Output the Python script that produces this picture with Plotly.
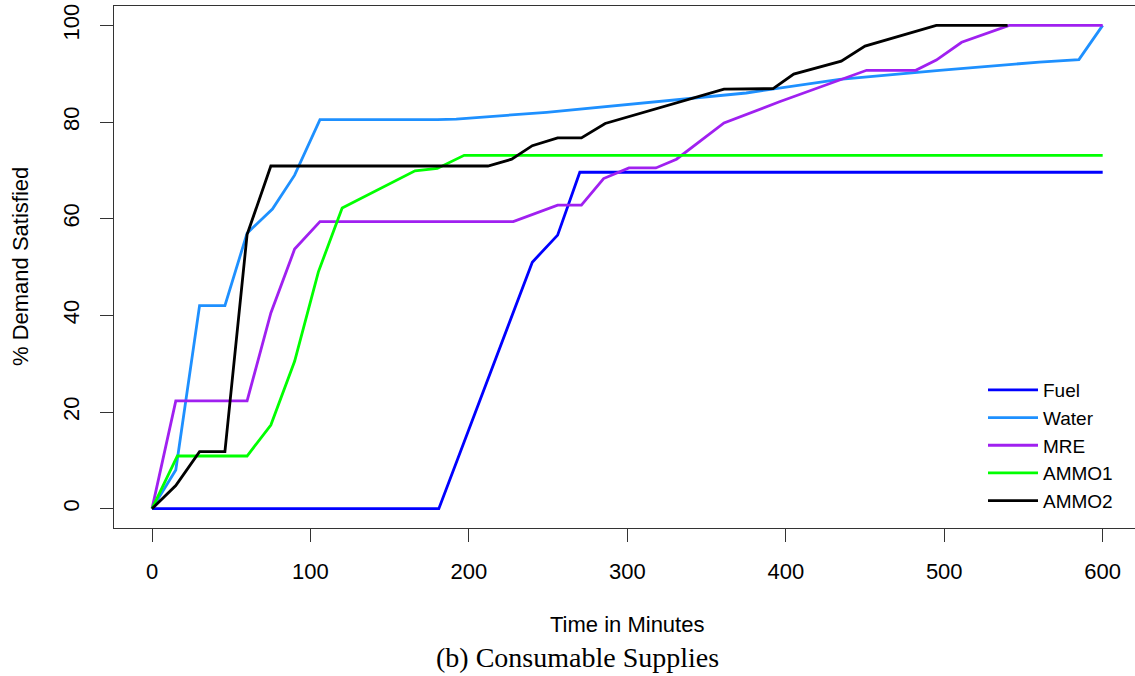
import plotly.graph_objects as go

# ---- data ----
fuel_x = [0, 181, 240, 256, 270, 600]
fuel_y = [0, 0, 51, 56.6, 69.6, 69.6]

water_x = [0, 15, 30, 46, 60, 76, 90, 106, 180, 192, 249, 312, 375, 434, 497, 560, 585, 600]
water_y = [0, 8, 42, 42, 57, 62, 69, 80.5, 80.5, 80.6, 82, 84, 86, 88.8, 90.7, 92.4, 92.9, 100]

mre_x = [0, 15, 60, 75, 90, 106, 228, 256, 271, 285, 301, 318, 331, 361, 396, 451, 482, 495, 511, 541, 600]
mre_y = [0, 22.3, 22.3, 40.5, 53.7, 59.4, 59.4, 62.8, 62.8, 68.3, 70.5, 70.5, 72.3, 79.8, 84.2, 90.7, 90.7, 92.8, 96.5, 100, 100]

ammo1_x = [0, 16, 60, 75, 90, 105, 120, 166, 180, 197, 600]
ammo1_y = [0, 10.9, 10.9, 17.3, 30.5, 49, 62.2, 69.9, 70.4, 73.1, 73.1]

ammo2_x = [0, 15, 30, 46, 60, 75, 212, 227, 240, 256, 271, 286, 361, 382, 392, 405, 435, 450, 495, 540]
ammo2_y = [0, 4.8, 11.8, 11.8, 56.7, 70.9, 70.9, 72.3, 75.1, 76.7, 76.7, 79.7, 86.8, 86.8, 86.9, 89.9, 92.6, 95.7, 100, 100]

series_names = ["Fuel", "Water", "MRE", "AMMO1", "AMMO2"]
series_colors = ["#0000FF", "#1E90FF", "#A020F0", "#00FF00", "#000000"]

x_ticks = [0, 100, 200, 300, 400, 500, 600]
y_ticks = [0, 20, 40, 60, 80, 100]

xs = [fuel_x, water_x, mre_x, ammo1_x, ammo2_x]
ys = [fuel_y, water_y, mre_y, ammo1_y, ammo2_y]

fig = go.Figure()
for name, color, x, y in zip(series_names, series_colors, xs, ys):
    fig.add_trace(go.Scatter(x=x, y=y, mode="lines", name=name, legendgroup=name,
                             line=dict(color=color, width=2.8)))

font_sans = "Liberation Sans, Arial, sans-serif"
L, T, W, H = 114, 6, 1021, 522  # plot area in pixels

fig.update_layout(
    width=1135, height=676,
    margin=dict(l=L, r=0, t=T, b=676 - T - H, autoexpand=False),
    paper_bgcolor="white", plot_bgcolor="white",
    font=dict(family=font_sans, size=22, color="#000"),
    showlegend=True,
    legend=dict(x=(983 - L) / W, y=(T + H - 371) / H, xanchor="left", yanchor="top",
                bgcolor="rgba(0,0,0,0)", borderwidth=0, itemwidth=50,
                font=dict(family=font_sans, size=19, color="#000"),
                tracegroupgap=0),
    xaxis=dict(range=[-24, 620.4], tickvals=x_ticks, ticks="outside", ticklen=13,
               tickcolor="#333", showline=True, linecolor="#333", linewidth=1.3,
               mirror=True, showgrid=False, zeroline=False, automargin=False,
               tickfont=dict(size=22), ticklabelstandoff=10),
    yaxis=dict(range=[-4, 104], tickvals=y_ticks, ticks="outside", ticklen=13,
               tickcolor="#333", showline=True, linecolor="#333", linewidth=1.3,
               showgrid=False, zeroline=False, tickangle=-90, automargin=False,
               tickfont=dict(size=22), ticklabelstandoff=12),
    annotations=[
        dict(text="Time in Minutes", xref="paper", yref="paper",
             x=(627 - L) / W, y=-(624 - T - H) / H,
             xanchor="center", yanchor="middle", showarrow=False,
             font=dict(family=font_sans, size=22)),
        dict(text="% Demand Satisfied", xref="paper", yref="paper",
             x=(20 - L) / W, y=(T + H - 267) / H,
             xanchor="center", yanchor="middle", showarrow=False, textangle=-90,
             font=dict(family=font_sans, size=22)),
        dict(text="(b) Consumable Supplies", xref="paper", yref="paper",
             x=(577 - L) / W, y=-(657 - T - H) / H,
             xanchor="center", yanchor="middle", showarrow=False,
             font=dict(family="Liberation Serif, Times New Roman, serif", size=28)),
    ],
)

fig.write_html("out.html", config={"displayModeBar": False},
               post_script="document.body.style.margin='0px';")
